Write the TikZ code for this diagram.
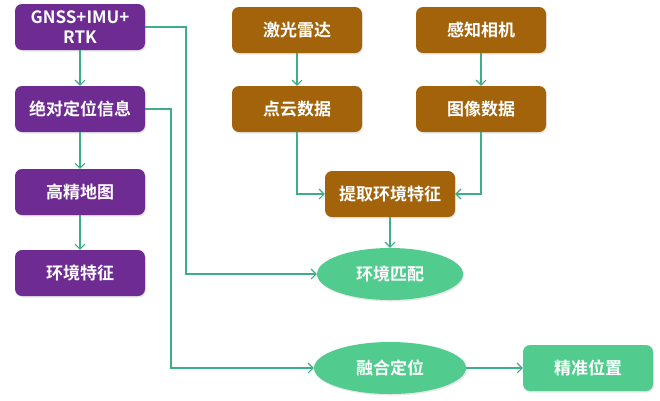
\documentclass[tikz,border=0pt]{standalone}
\usepackage{fontspec}
\newfontfamily\cjk{Noto Sans CJK SC}[BoldFont={* Bold}]
\usetikzlibrary{arrows.meta,shapes.geometric,shadows}
\definecolor{pur}{HTML}{6E2C93}
\definecolor{brn}{HTML}{A2630B}
\definecolor{grn}{HTML}{52CC8E}
\definecolor{lnc}{HTML}{3DAE85}
\begin{document}
\begin{tikzpicture}[x=1pt,y=-1pt,
  box/.style={rounded corners=7pt, minimum width=130pt, minimum height=46pt, text=white,
    font=\cjk\bfseries\fontsize{17}{19}\selectfont, align=center, inner sep=0pt,
    drop shadow={opacity=0.18, shadow xshift=1pt, shadow yshift=-1.5pt}},
  pbox/.style={box, fill=pur},
  bbox/.style={box, fill=brn},
  gbox/.style={box, fill=grn},
  gell/.style={ellipse, fill=grn, minimum width=146pt, minimum height=52pt, text=white,
    font=\cjk\bfseries\fontsize{17}{19}\selectfont, inner sep=0pt,
    drop shadow={opacity=0.18, shadow xshift=1pt, shadow yshift=-1.5pt}},
  conn/.style={draw=lnc, line width=1.1pt, -{Straight Barb[length=5pt,width=10pt,line width=1.1pt]}},
  line/.style={draw=lnc, line width=1.1pt}]
\useasboundingbox[fill=white] (0,0) rectangle (660,400);
\node[pbox] (gnss) at (80,27) {GNSS+IMU+\\[1pt]RTK};
\node[pbox] (abs) at (80,109) {绝对定位信息};
\node[pbox] (map) at (80,192) {高精地图};
\node[pbox] (env) at (80,273) {环境特征};
\node[bbox] (lidar) at (297,30) {激光雷达};
\node[bbox] (cam) at (481,30) {感知相机};
\node[bbox] (pc) at (297,109) {点云数据};
\node[bbox] (img) at (481,109) {图像数据};
\node[bbox] (ext) at (390,194) {提取环境特征};
\node[gell] (match) at (390,274) {环境匹配};
\node[gell, minimum width=152pt] (fuse) at (390,368) {融合定位};
\node[gbox] (prec) at (588,368) {精准位置};
\draw[conn] (gnss) -- (abs);
\draw[conn] (abs) -- (map);
\draw[conn] (map) -- (env);
\draw[conn] (lidar) -- (pc);
\draw[conn] (cam) -- (img);
\draw[conn] (pc.south) |- (ext.west);
\draw[conn] (img.south) |- (ext.east);
\draw[conn] (ext) -- (match);
\coordinate (c1) at (186,27);
\coordinate (c2) at (171,109);
\draw[conn] (gnss.east) -- (c1) |- (match.west);
\draw[conn] (abs.east) -- (c2) |- (fuse.west);
\draw[conn] (fuse) -- (prec);
\end{tikzpicture}
\end{document}
